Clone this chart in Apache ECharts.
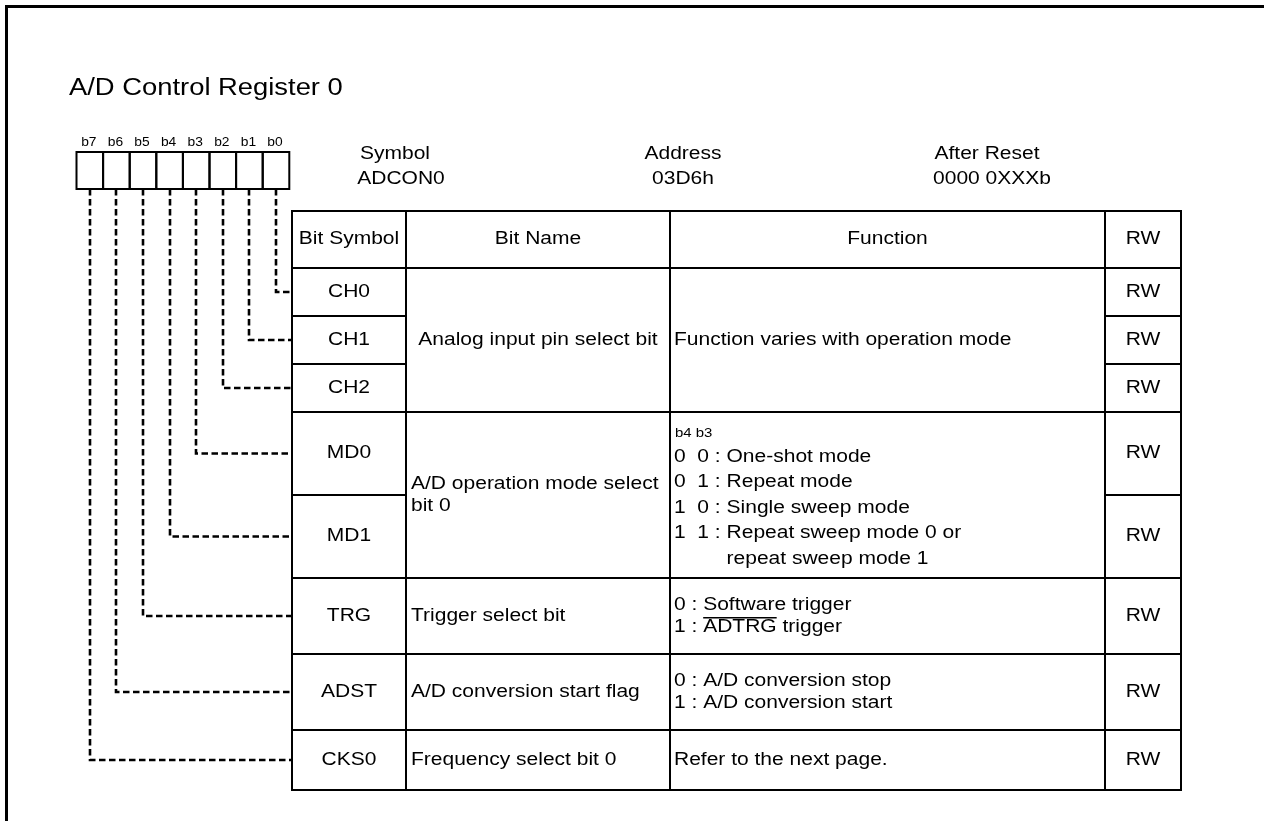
<!DOCTYPE html>
<html><head><meta charset="utf-8">
<script src="https://cdn.jsdelivr.net/npm/echarts@6/dist/echarts.min.js"></script>
<style>html,body{margin:0;padding:0;background:#fff}#chart{width:1264px;height:821px}</style>
</head><body><div id="chart"></div>
<script>
// ---------------- data ----------------
const titleText = 'A/D Control Register 0';
const bitLabels = ['b7', 'b6', 'b5', 'b4', 'b3', 'b2', 'b1', 'b0'];
const infoLabels = ['Symbol', 'Address', 'After Reset'];
const infoValues = ['ADCON0', '03D6h', '0000 0XXXb'];
const headers = ['Bit Symbol', 'Bit Name', 'Function', 'RW'];
const bitSymbols = ['CH0', 'CH1', 'CH2', 'MD0', 'MD1', 'TRG', 'ADST', 'CKS0'];
const bitNumbers = [0, 1, 2, 3, 4, 5, 6, 7];
const access = ['RW', 'RW', 'RW', 'RW', 'RW', 'RW', 'RW', 'RW'];
const groupRows = [[0, 2], [3, 4], [5, 5], [6, 6], [7, 7]];
const bitNames = [
  ['Analog input pin select bit'],
  ['A/D operation mode select', 'bit 0'],
  ['Trigger select bit'],
  ['A/D conversion start flag'],
  ['Frequency select bit 0']
];
const functionHeads = [null, 'b4 b3', null, null, null];
const functionLines = [
  ['Function varies with operation mode'],
  ['0  0 : One-shot mode', '0  1 : Repeat mode', '1  0 : Single sweep mode', '1  1 : Repeat sweep mode 0 or', '\trepeat sweep mode 1'],
  ['0 : Software trigger', '1 : ADTRG trigger'],
  ['0 : A/D conversion stop', '1 : A/D conversion start'],
  ['Refer to the next page.']
];
const overlines = [{ group: 2, line: 1, word: 'ADTRG' }];

// ---------------- layout ----------------
const FONT = '"Liberation Sans", Arial, Helvetica, sans-serif';
const FS = 17.5, SX = 1.2;
const COLS = [292, 406, 670, 1105, 1181];
const HEAD_TOP = 211, HEAD_BOTTOM = 268;
const ROW_H = [48, 48, 48, 83, 83, 76, 76, 60];
const rowTop = [];
(function () { let y = HEAD_BOTTOM; ROW_H.forEach(h => { rowTop.push(y); y += h; }); rowTop.push(y); })();
const BOX_LEFT = 76.5, BOX_W = 26.6, BOX_TOP = 152, BOX_BOTTOM = 189;
const LW = 2;

const mctx = document.createElement('canvas').getContext('2d');
function measure(s, size) { mctx.font = size + 'px ' + FONT; return mctx.measureText(s).width * SX; }

function rect(api, x0, y0, x1, y1, lw) {
  const a = api.coord([x0, y0]), b = api.coord([x1, y1]);
  return { type: 'rect', shape: { x: a[0], y: a[1], width: b[0] - a[0], height: b[1] - a[1] },
    style: { fill: 'none', stroke: '#000', lineWidth: lw || LW } };
}
function txt(api, x, y, s, align, size, sx) {
  const p = api.coord([x, y]);
  return { type: 'text', x: p[0], y: p[1], scaleX: sx || SX, scaleY: 1,
    style: { text: s, x: 0, y: 0, font: (size || FS) + 'px ' + FONT, fill: '#000',
      align: align || 'left', textAlign: align || 'left', verticalAlign: 'middle', textVerticalAlign: 'middle' } };
}
function line(api, pts, lw, dash) {
  return { type: 'polyline', shape: { points: pts.map(p => api.coord(p)) },
    style: { fill: 'none', stroke: '#000', lineWidth: lw || LW, lineDash: dash || null } };
}

// bit boxes + labels
function renderBits(params, api) {
  const i = params.dataIndex;
  const x0 = BOX_LEFT + i * BOX_W;
  return { type: 'group', children: [
    rect(api, x0, BOX_TOP, x0 + BOX_W, BOX_BOTTOM),
    txt(api, x0 + BOX_W / 2 - 1, 143, bitLabels[i], 'center', 12, 1.15)
  ] };
}

// rows: bit symbol cell, RW cell, dashed connector
function renderRows(params, api) {
  const r = params.dataIndex;
  const y0 = rowTop[r], y1 = rowTop[r + 1], cy = (y0 + y1) / 2;
  const boxIdx = 7 - bitNumbers[r];
  const cx = Math.round(BOX_LEFT + (boxIdx + 0.5) * BOX_W);
  return { type: 'group', children: [
    line(api, [[cx, BOX_BOTTOM], [cx, cy], [COLS[0], cy]], 2.6, [6.5, 3.5]),
    rect(api, COLS[0], y0, COLS[1], y1),
    rect(api, COLS[3], y0, COLS[4], y1),
    txt(api, (COLS[0] + COLS[1]) / 2, cy, bitSymbols[r], 'center'),
    txt(api, (COLS[3] + COLS[4]) / 2, cy, access[r], 'center')
  ] };
}

// merged groups: bit name + function
function renderGroups(params, api) {
  const g = params.dataIndex;
  const y0 = rowTop[groupRows[g][0]], y1 = rowTop[groupRows[g][1] + 1], cy = (y0 + y1) / 2;
  const ch = [rect(api, COLS[1], y0, COLS[2], y1), rect(api, COLS[2], y0, COLS[3], y1)];
  const names = bitNames[g];
  if (g === 0) {
    ch.push(txt(api, (COLS[1] + COLS[2]) / 2, cy, names[0], 'center'));
  } else {
    const nh = 22;
    names.forEach((s, k) => ch.push(txt(api, COLS[1] + 5, cy + (k - (names.length - 1) / 2) * nh, s, 'left')));
  }
  const fl = functionLines[g];
  const fx = COLS[2] + 4;
  let ys = [];
  if (functionHeads[g]) {
    const step = 25.5;
    ch.push(txt(api, fx + 1, cy - 62, functionHeads[g], 'left', 13, 1.15));
    fl.forEach((s, k) => ys.push(cy - 38 + k * step));
  } else {
    const step = 22.5;
    fl.forEach((s, k) => ys.push(cy + (k - (fl.length - 1) / 2) * step));
  }
  fl.forEach((s, k) => {
    if (s[0] === '\t') {
      const prev = fl[k - 1];
      const pre = prev.slice(0, prev.indexOf(':') + 2);
      ch.push(txt(api, fx + measure(pre, FS), ys[k], s.slice(1), 'left'));
    } else {
      ch.push(txt(api, fx, ys[k], s, 'left'));
    }
  });
  overlines.filter(o => o.group === g).forEach(o => {
    const s = fl[o.line];
    const idx = s.indexOf(o.word);
    const xs = fx + measure(s.slice(0, idx), FS);
    const xe = xs + measure(o.word, FS);
    const yl = ys[o.line] - 9.5;
    ch.push(line(api, [[xs, yl], [xe, yl]], 1.4));
  });
  return { type: 'group', children: ch };
}

// header row
function renderHeader(params, api) {
  const ch = [];
  const cy = (HEAD_TOP + HEAD_BOTTOM) / 2;
  for (let c = 0; c < 4; c++) {
    ch.push(rect(api, COLS[c], HEAD_TOP, COLS[c + 1], HEAD_BOTTOM));
    ch.push(txt(api, (COLS[c] + COLS[c + 1]) / 2, cy, headers[c], 'center'));
  }
  return { type: 'group', children: ch };
}

const infoX1 = [395, 683, 987], infoX2 = [401, 683, 992];
const graphics = [
  { type: 'rect', shape: { x: 6.5, y: 6.5, width: 1400, height: 1000 }, style: { fill: 'none', stroke: '#000', lineWidth: 3 }, silent: true },
  { type: 'text', x: 69, y: 89, scaleX: 1.19, style: { text: titleText, x: 0, y: 0, font: '23px ' + FONT, fill: '#000', align: 'left', textAlign: 'left', verticalAlign: 'middle', textVerticalAlign: 'middle' } }
];
infoLabels.forEach((s, i) => {
  graphics.push({ type: 'text', x: infoX1[i], y: 154, scaleX: SX, style: { text: s, x: 0, y: 0, font: FS + 'px ' + FONT, fill: '#000', align: 'center', textAlign: 'center', verticalAlign: 'middle', textVerticalAlign: 'middle' } });
  graphics.push({ type: 'text', x: infoX2[i], y: 179, scaleX: SX, style: { text: infoValues[i], x: 0, y: 0, font: FS + 'px ' + FONT, fill: '#000', align: 'center', textAlign: 'center', verticalAlign: 'middle', textVerticalAlign: 'middle' } });
});

const chart = echarts.init(document.getElementById('chart'), null, { renderer: 'canvas' });
chart.setOption({
  backgroundColor: '#fff',
  animation: false,
  grid: { left: 0, right: 0, top: 0, bottom: 0 },
  xAxis: { type: 'value', min: 0, max: 1264, show: false },
  yAxis: { type: 'value', min: 0, max: 821, inverse: true, show: false },
  graphic: graphics,
  series: [
    { type: 'custom', name: 'rows', renderItem: renderRows, data: bitSymbols.map((s, i) => [i, i]), silent: true },
    { type: 'custom', name: 'groups', renderItem: renderGroups, data: groupRows.map((g, i) => [i, i]), silent: true },
    { type: 'custom', name: 'header', renderItem: renderHeader, data: [[0, 0]], silent: true },
    { type: 'custom', name: 'bits', renderItem: renderBits, data: bitLabels.map((b, i) => [i, i]), silent: true }
  ]
});
</script>
</body></html>
